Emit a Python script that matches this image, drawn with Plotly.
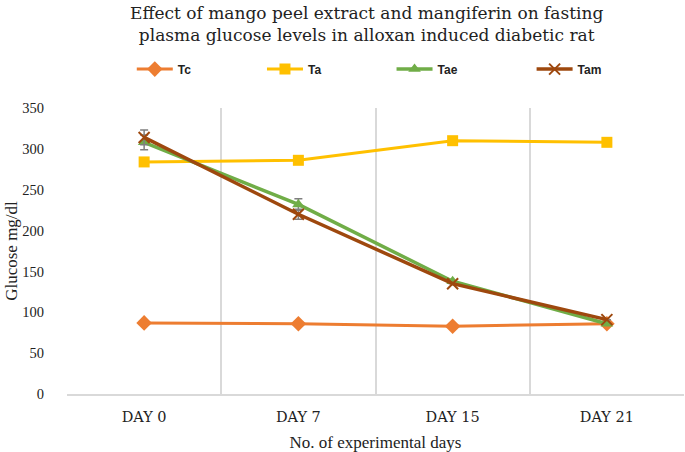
import plotly.graph_objects as go

days = ["DAY 0", "DAY 7", "DAY 15", "DAY 21"]
tc = [87, 86, 83, 86]
ta = [284, 286, 310, 308]
tae = [308, 232, 138, 86]
tam = [314, 220, 135, 91]
tae_err = [9, 7, 0, 0]
tam_err = [9, 6, 0, 0]
y_ticks = [0, 50, 100, 150, 200, 250, 300, 350]

serif = "Liberation Serif, Times New Roman, serif"
wide_serif = "DejaVu Serif, serif"
legend_font = "Liberation Sans Narrow, Arial Narrow, Liberation Sans, sans-serif"

fig = go.Figure()
fig.add_trace(go.Scatter(x=days, y=tc, name="Tc", mode="lines+markers", legend="legend",
                         line=dict(color="#ED7D31", width=3),
                         marker=dict(symbol="diamond", size=12, color="#ED7D31")))
fig.add_trace(go.Scatter(x=days, y=ta, name="Ta", mode="lines+markers", legend="legend2",
                         line=dict(color="#FFC000", width=3),
                         marker=dict(symbol="square", size=11, color="#FFC000")))
fig.add_trace(go.Scatter(x=days, y=tae, name="Tae", mode="lines+markers", legend="legend3",
                         line=dict(color="#70AD47", width=3.5),
                         marker=dict(symbol="triangle-up", size=11, color="#70AD47"),
                         error_y=dict(type="data", array=tae_err, color="#7f7f7f",
                                      thickness=1.5, width=4)))
fig.add_trace(go.Scatter(x=days, y=tam, name="Tam", mode="lines+markers", legend="legend4",
                         line=dict(color="#9E480E", width=3.5),
                         marker=dict(symbol="x-thin", size=11, color="#9E480E",
                                     line=dict(color="#9E480E", width=2)),
                         error_y=dict(type="data", array=tam_err, color="#7f7f7f",
                                      thickness=1.5, width=4)))

leg_common = dict(orientation="h", yanchor="middle", y=1.136, xanchor="left",
                  bgcolor="rgba(0,0,0,0)", itemwidth=36,
                  font=dict(family=legend_font, size=12, color="#222", weight="bold"))

fig.update_layout(
    width=685, height=452,
    margin=dict(l=67, r=1, t=108, b=58),
    showlegend=True,
    paper_bgcolor="white", plot_bgcolor="white",
    legend=dict(x=0.105, **leg_common),
    legend2=dict(x=0.316, **leg_common),
    legend3=dict(x=0.526, **leg_common),
    legend4=dict(x=0.753, **leg_common),
    annotations=[dict(text="Effect of mango peel extract and mangiferin on fasting<br>plasma glucose levels in alloxan induced diabetic rat",
                      xref="paper", yref="paper", x=0.486, y=1.295,
                      xanchor="center", yanchor="middle", showarrow=False,
                      font=dict(family=wide_serif, size=17, color="#222"))],
    xaxis=dict(type="category", range=[-0.5, 3.5], tickson="boundaries", automargin=False,
               showgrid=True, gridcolor="#d9d9d9", gridwidth=1.5,
               showline=True, linecolor="#d9d9d9", linewidth=1.5,
               ticks="", ticklabelstandoff=9,
               tickfont=dict(family=wide_serif, size=14.5, color="#222"),
               title=dict(text="No. of experimental days", standoff=12,
                          font=dict(family=serif, size=17, color="#222"))),
    yaxis=dict(range=[0, 350], tickvals=y_ticks, showgrid=False, zeroline=False,
               showline=False, ticks="", ticklabelstandoff=22, automargin=False,
               tickfont=dict(family=serif, size=14.5, color="#222"),
               title=dict(text="Glucose mg/dl", standoff=0,
                          font=dict(family=serif, size=17, color="#222"))),
)

fig.write_html("out.html", config={"displayModeBar": False},
               post_script="document.body.style.margin='0px';")
